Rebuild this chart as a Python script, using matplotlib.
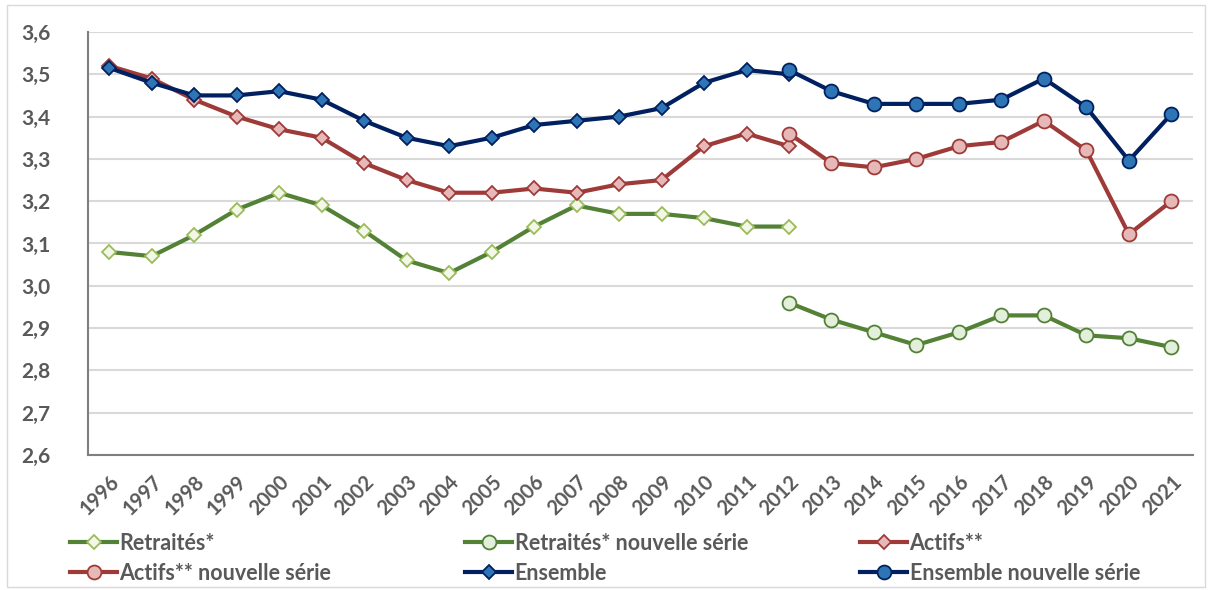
import matplotlib.pyplot as plt
from matplotlib.patches import Rectangle

years = [str(y) for y in range(1996, 2022)]
old_years = years[:17]   # 1996-2012
new_years = years[16:]   # 2012-2021

retraites = [3.08, 3.07, 3.12, 3.18, 3.22, 3.19, 3.13, 3.06, 3.03, 3.08,
             3.14, 3.19, 3.17, 3.17, 3.16, 3.14, 3.14]
retraites_new = [2.96, 2.92, 2.89, 2.86, 2.89, 2.93, 2.93, 2.883, 2.876, 2.855]
actifs = [3.52, 3.49, 3.44, 3.40, 3.37, 3.35, 3.29, 3.25, 3.22, 3.22,
          3.23, 3.22, 3.24, 3.25, 3.33, 3.36, 3.33]
actifs_new = [3.36, 3.29, 3.28, 3.30, 3.33, 3.34, 3.39, 3.32, 3.122, 3.20]
ensemble = [3.515, 3.48, 3.45, 3.45, 3.46, 3.44, 3.39, 3.35, 3.33, 3.35,
            3.38, 3.39, 3.40, 3.42, 3.48, 3.51, 3.50]
ensemble_new = [3.51, 3.46, 3.43, 3.43, 3.43, 3.44, 3.49, 3.422, 3.296, 3.406]

plt.rcParams['font.family'] = ['Lato', 'DejaVu Sans']
txt = '#595959'

fig = plt.figure(figsize=(12.12, 5.9), dpi=100)
ax = fig.add_axes([0.0726, 0.2288, 0.9114, 0.717])

xo = [years.index(y) for y in old_years]
xn = [years.index(y) for y in new_years]

green, red, blue = '#538135', '#9e3b39', '#002060'
h = {}
h['r'], = ax.plot(xo, retraites, color=green, lw=3, marker='D', ms=7.5,
                  mfc='#f2f7e8', mec='#9bbb59', mew=1.3, label='Retraités*')
h['rn'], = ax.plot(xn, retraites_new, color=green, lw=3, marker='o', ms=10,
                   mfc='#e2efda', mec=green, mew=1.3, label='Retraités* nouvelle série')
h['a'], = ax.plot(xo, actifs, color=red, lw=3, marker='D', ms=7.5,
                  mfc='#e6b9b8', mec=red, mew=1.3, label='Actifs**')
h['an'], = ax.plot(xn, actifs_new, color=red, lw=3, marker='o', ms=10,
                   mfc='#e6b9b8', mec=red, mew=1.3, label='Actifs** nouvelle série')
h['e'], = ax.plot(xo, ensemble, color=blue, lw=3, marker='D', ms=7.5,
                  mfc='#2e75b6', mec=blue, mew=1.3, label='Ensemble')
h['en'], = ax.plot(xn, ensemble_new, color=blue, lw=3, marker='o', ms=10,
                   mfc='#2e75b6', mec=blue, mew=1.3, label='Ensemble nouvelle série')

ax.set_xlim(-0.5, len(years) - 0.5)
ax.set_ylim(2.6, 3.6)
ax.set_yticks([2.6 + 0.1 * i for i in range(11)])
ax.set_yticklabels([f'{2.6 + 0.1 * i:.1f}'.replace('.', ',') for i in range(11)],
                   fontsize=15, fontweight='bold', color=txt)
ax.set_xticks(range(len(years)))
ax.set_xticklabels(years, rotation=45, ha='right', rotation_mode='anchor',
                   fontsize=14.5, fontweight='bold', color=txt)
ax.tick_params(axis='x', length=0, pad=12)
ax.tick_params(axis='y', length=0, pad=27)
ax.grid(axis='y', color='#d9d9d9', lw=1.5)
ax.set_axisbelow(True)
for s in ['top', 'right']:
    ax.spines[s].set_visible(False)
for s in ['left', 'bottom']:
    ax.spines[s].set_color('#7f7f7f')
    ax.spines[s].set_linewidth(1.5)

# three legend columns at fixed positions, two entries each
columns = [['r', 'an'], ['rn', 'e'], ['a', 'en']]
col_x = [70, 465, 860]
for keys, x in zip(columns, col_x):
    leg = fig.legend([h[k] for k in keys], [h[k].get_label() for k in keys],
                     loc='upper left', bbox_to_anchor=(x / 1212, 1 - 533 / 590),
                     frameon=False, handlelength=2.2, handletextpad=0.1,
                     labelspacing=0.4, borderpad=0, borderaxespad=0,
                     prop={'size': 15.5, 'weight': 'bold'})
    for t in leg.get_texts():
        t.set_color(txt)

fig.patches.append(Rectangle((7 / 1212, 3 / 590), 1198 / 1212, 582 / 590,
                             transform=fig.transFigure, fill=False,
                             ec='#d9d9d9', lw=1))

fig.savefig('out.png', dpi=100)
